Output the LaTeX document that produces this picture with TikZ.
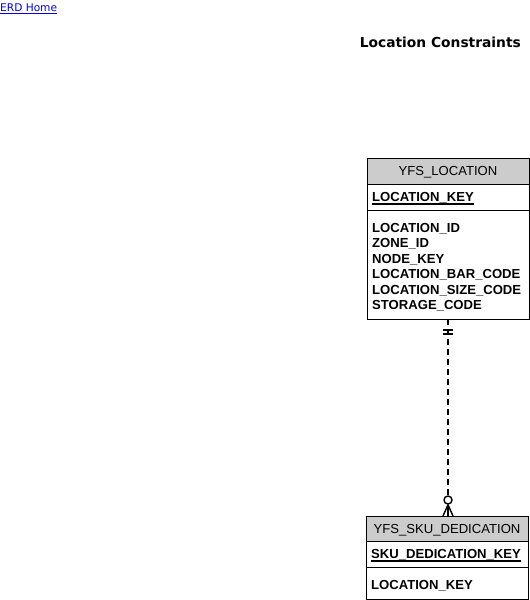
\documentclass[tikz,border=0pt]{standalone}
\usepackage{fontspec}
\setmainfont{Liberation Sans}
\newfontfamily\dejavu{DejaVu Sans}
\usetikzlibrary{calc}
\definecolor{hdrgray}{RGB}{204,204,204}
\definecolor{linkblue}{RGB}{0,0,238}
\begin{document}
\begin{tikzpicture}[x=1bp,y=-1bp,
  entbox/.style={draw=black, line width=1bp, fill=white, inner sep=0, outer sep=0, anchor=north west, minimum width=162bp},
  hdrbox/.style={entbox, fill=hdrgray, minimum height=25bp},
  attr/.style={inner sep=0, anchor=base west, font=\fontsize{13.1bp}{15.4bp}\selectfont\bfseries},
  hdrtxt/.style={inner sep=0, anchor=base, font=\fontsize{13.1bp}{15.4bp}\selectfont},
  rel/.style={line width=1.6bp, dash pattern=on 6bp off 4bp},
  relend/.style={line width=1.4bp},
  uline/.style={line width=1.1bp}
]
\useasboundingbox (0,0) rectangle (530,600);

% links and title
\node[anchor=base west, inner sep=0, text=linkblue, font=\dejavu\fontsize{10.6bp}{12bp}\selectfont] (home) at (0,12) {ERD Home};
\draw[linkblue, line width=0.8bp] ([yshift=-1.8bp]home.base west) -- ([yshift=-1.8bp]home.base east);
\node[anchor=base east, inner sep=0, font=\dejavu\bfseries\fontsize{13.8bp}{16bp}\selectfont] (title) at (521,48) {Location Constraints};

% YFS_LOCATION
\node[entbox, minimum height=160bp] (loc) at (367,159) {};
\node[hdrbox] (lochdr) at (367,159) {};
\node[hdrtxt] (locname) at (448,176) {YFS\_LOCATION};
\draw[line width=1bp] (loc.west |- 0,210) -- (loc.east |- 0,210);
\node[attr] (lockey) at (372,201.5) {LOCATION\_KEY};
\draw[uline] ([yshift=-2.5bp]lockey.base west) -- ([yshift=-2.5bp]lockey.base east);
\foreach \t [count=\i] in {LOCATION\_ID, ZONE\_ID, NODE\_KEY, LOCATION\_BAR\_CODE, LOCATION\_SIZE\_CODE, STORAGE\_CODE}
  \node[attr] (locattr\i) at (372,{232.5+15.4*(\i-1)}) {\t};

% YFS_SKU_DEDICATION
\node[entbox, minimum height=83bp] (sku) at (366,516) {};
\node[hdrbox] (skuhdr) at (366,516) {};
\node[hdrtxt] (skuname) at (447,533) {YFS\_SKU\_DEDICATION};
\draw[line width=1bp] (sku.west |- 0,567) -- (sku.east |- 0,567);
\node[attr] (skukey) at (371,558.5) {SKU\_DEDICATION\_KEY};
\draw[uline] ([yshift=-2.5bp]skukey.base west) -- ([yshift=-2.5bp]skukey.base east);
\node[attr] (skuattr1) at (371,589.5) {LOCATION\_KEY};

% relationship
\coordinate (skutop) at (sku.north -| loc.south);
\node[circle, draw=black, line width=1.4bp, fill=white, minimum size=8bp, inner sep=0] (circ) at ($(skutop)+(0,-16)$) {};
\draw[rel] (loc.south) -- (circ.north);
\draw[relend] ($(loc.south)+(-5,11)$) -- ++(10,0);
\draw[relend] ($(loc.south)+(-5,15)$) -- ++(10,0);
\draw[relend] (circ.south) -- ($(skutop)+(-5,0)$);
\draw[relend] (circ.south) -- (skutop);
\draw[relend] (circ.south) -- ($(skutop)+(5,0)$);
\end{tikzpicture}
\end{document}
